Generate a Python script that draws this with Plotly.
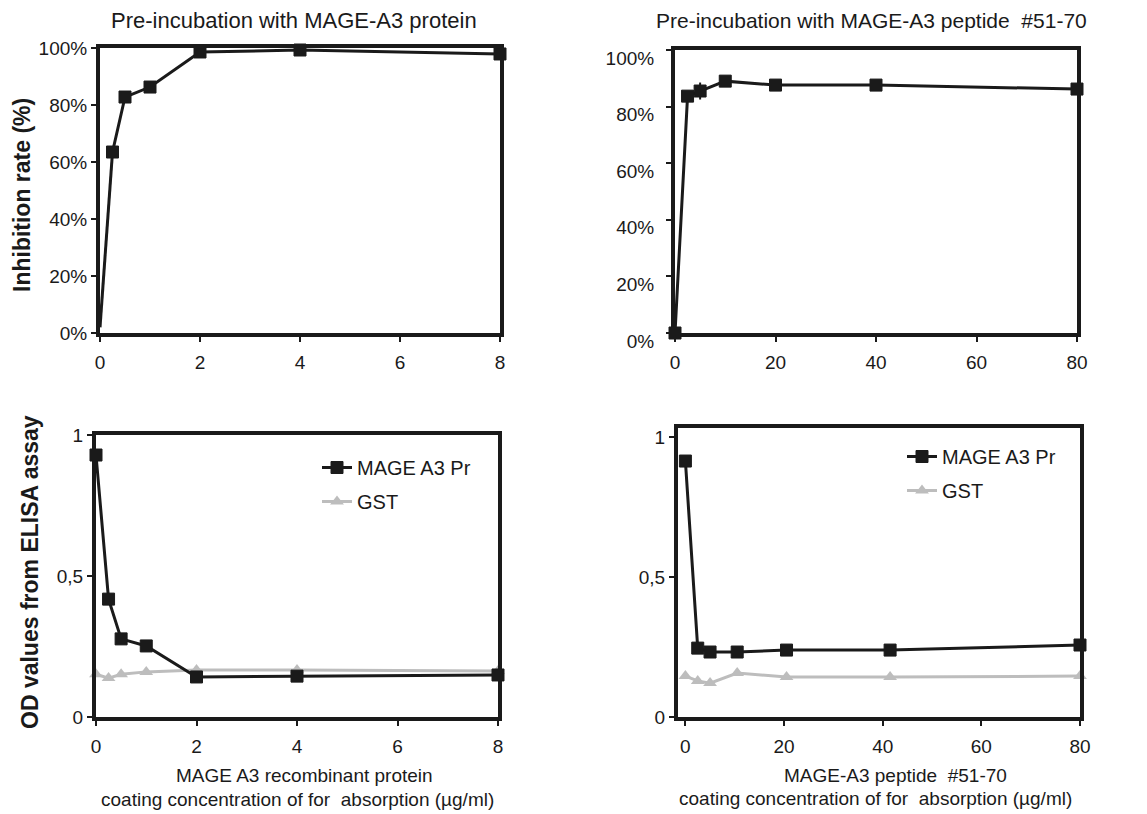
import plotly.graph_objects as go

# ---------------- data ----------------
protein_conc = [0, 0.25, 0.5, 1, 2, 4, 8]
protein_inhibition = [2, 63.5, 82.8, 86.3, 98.6, 99.3, 97.9]

peptide_conc = [0, 2.5, 5, 10, 20, 40, 80]
peptide_inhibition = [0, 83.7, 85.5, 89.0, 87.6, 87.6, 86.2]
peptide_inhibition_err = [0, 0, 3, 0, 0, 0, 0]

od_protein_conc = [0, 0.25, 0.5, 1, 2, 4, 8]
od_protein_mage = [0.929, 0.418, 0.277, 0.252, 0.142, 0.145, 0.149]
od_protein_gst = [0.152, 0.138, 0.152, 0.160, 0.167, 0.167, 0.163]

od_peptide_conc = [0, 2.5, 5, 10.5, 20.5, 41.5, 80]
od_peptide_mage = [0.914, 0.246, 0.232, 0.232, 0.239, 0.239, 0.257]
od_peptide_gst = [0.146, 0.129, 0.121, 0.157, 0.143, 0.143, 0.146]

pct_ticks = [0, 20, 40, 60, 80, 100]
pct_labels = ["0%", "20%", "40%", "60%", "80%", "100%"]
od_ticks = [0, 0.5, 1]
od_labels = ["0", "0,5", "1"]
protein_ticks = [0, 2, 4, 6, 8]
peptide_ticks = [0, 20, 40, 60, 80]

series_names = ["MAGE A3 Pr", "GST"]

# ---------------- styling ----------------
# the page body adds an 8px margin; the figure fills the rest of the window
# and reference pixel positions are shifted by 8px
OFF = 8
W, H = 1147 - OFF, 814 - OFF
INK = "#1a1a1a"
GREY = "#bdbdbd"
FONT = "Liberation Sans, Arial, sans-serif"


def fx(p):
    return (p - OFF) / W


def fy(p):
    return 1 - (p - OFF) / H


def px_x(a, b):
    return [fx(a), fx(b)]


def px_y(top, bottom):
    return [fy(bottom), fy(top)]


fig = go.Figure()

mage_line = dict(color=INK, width=3)
mage_marker = dict(symbol="square", size=12, color=INK, line=dict(color=INK, width=1))
gst_line = dict(color=GREY, width=3)
gst_marker = dict(symbol="triangle-up", size=12, color=GREY, line=dict(color=GREY, width=0))

# first segment of the protein inhibition curve is drawn without a marker at x=0
fig.add_trace(go.Scatter(x=protein_conc[:2], y=protein_inhibition[:2], mode="lines",
                         line=mage_line, cliponaxis=False, showlegend=False,
                         hoverinfo="skip", xaxis="x", yaxis="y"))
fig.add_trace(go.Scatter(x=protein_conc[1:], y=protein_inhibition[1:], mode="lines+markers",
                         line=mage_line, marker=mage_marker, cliponaxis=False,
                         showlegend=False, xaxis="x", yaxis="y"))
fig.add_trace(go.Scatter(x=peptide_conc, y=peptide_inhibition, mode="lines+markers",
                         line=mage_line, marker=mage_marker, cliponaxis=False,
                         error_y=dict(type="data", array=peptide_inhibition_err, visible=True,
                                      color=INK, thickness=2, width=0),
                         showlegend=False, xaxis="x2", yaxis="y2"))

fig.add_trace(go.Scatter(x=od_protein_conc, y=od_protein_gst, mode="lines+markers",
                         name=series_names[1], line=gst_line, marker=gst_marker,
                         cliponaxis=False, legend="legend", legendgroup="b",
                         legendrank=2, xaxis="x3", yaxis="y3"))
fig.add_trace(go.Scatter(x=od_protein_conc, y=od_protein_mage, mode="lines+markers",
                         name=series_names[0], line=mage_line, marker=mage_marker,
                         cliponaxis=False, legend="legend", legendgroup="a",
                         legendrank=1, xaxis="x3", yaxis="y3"))

fig.add_trace(go.Scatter(x=od_peptide_conc, y=od_peptide_gst, mode="lines+markers",
                         name=series_names[1], line=gst_line, marker=gst_marker,
                         cliponaxis=False, legend="legend2", legendgroup="d",
                         legendrank=2, xaxis="x4", yaxis="y4"))
fig.add_trace(go.Scatter(x=od_peptide_conc, y=od_peptide_mage, mode="lines+markers",
                         name=series_names[0], line=mage_line, marker=mage_marker,
                         cliponaxis=False, legend="legend2", legendgroup="c",
                         legendrank=1, xaxis="x4", yaxis="y4"))

tickfont = dict(family=FONT, size=19, color=INK)


def axis(domain, rng, ticks, labels=None, anchor=None, **kw):
    d = dict(domain=domain, range=rng, tickvals=ticks, showgrid=False, zeroline=False,
             showline=True, linewidth=4, linecolor=INK, mirror=True,
             ticks="outside", ticklen=5, tickwidth=2, tickcolor=INK,
             tickfont=tickfont, anchor=anchor, automargin=False)
    if labels is not None:
        d["ticktext"] = labels
    d.update(kw)
    return d


legend_font = dict(family=FONT, size=20, color=INK)
fig.update_layout(
    width=W, height=H,
    margin=dict(l=0, r=0, t=0, b=0, autoexpand=False),
    paper_bgcolor="white", plot_bgcolor="white",
    font=dict(family=FONT, color=INK),
    xaxis=axis(px_x(100, 500), [0, 8], protein_ticks, anchor="y", ticklabelstandoff=4),
    yaxis=axis(px_y(48, 333), [0, 100], pct_ticks, pct_labels, anchor="x"),
    xaxis2=axis(px_x(675, 1077), [0, 80], peptide_ticks, anchor="y2", ticklabelstandoff=4),
    yaxis2=axis(px_y(50, 333), [0, 100], pct_ticks, pct_labels, anchor="x2",
                ticklabelshift=8, ticklabelstandoff=8),
    xaxis3=axis(px_x(96, 498), [0, 8], protein_ticks, anchor="y3", ticklabelstandoff=4),
    yaxis3=axis(px_y(435, 717), [0, 1], od_ticks, od_labels, anchor="x3"),
    xaxis4=axis(px_x(678, 1080), [-1.5, 80], peptide_ticks, anchor="y4", ticklabelstandoff=4),
    yaxis4=axis(px_y(428, 717), [0, 1.032], od_ticks, od_labels, anchor="x4"),
    legend=dict(x=fx(317), y=fy(448), xanchor="left", yanchor="top",
                bgcolor="rgba(0,0,0,0)", font=legend_font,
                tracegroupgap=5, itemwidth=30, traceorder="grouped"),
    legend2=dict(x=fx(902), y=fy(437), xanchor="left", yanchor="top",
                 bgcolor="rgba(0,0,0,0)", font=legend_font,
                 tracegroupgap=5, itemwidth=30, traceorder="grouped"),
)

ann = []
ann.append(dict(text="Pre-incubation with MAGE-A3 protein", x=fx(294), y=fy(20),
                xref="paper", yref="paper", showarrow=False,
                font=dict(family=FONT, size=22, color=INK),
                xanchor="center", yanchor="middle"))
ann.append(dict(text="Pre-incubation with MAGE-A3 peptide  #51-70", x=fx(871), y=fy(20),
                xref="paper", yref="paper", showarrow=False,
                font=dict(family=FONT, size=21, color=INK),
                xanchor="center", yanchor="middle"))
ytitle_font = dict(family=FONT, size=23, color=INK, weight="bold")
ann.append(dict(text="Inhibition rate (%)", x=fx(22), y=fy(195), xref="paper", yref="paper",
                showarrow=False, textangle=-90, font=ytitle_font,
                xanchor="center", yanchor="middle"))
ann.append(dict(text="OD values from ELISA assay", x=fx(30), y=fy(572), xref="paper",
                yref="paper", showarrow=False, textangle=-90, font=ytitle_font,
                xanchor="center", yanchor="middle"))
xt_font = dict(family=FONT, size=19, color=INK)
ann.append(dict(text="MAGE A3 recombinant protein", x=fx(304), y=fy(775), xref="paper",
                yref="paper", showarrow=False, font=xt_font, xanchor="center", yanchor="middle"))
ann.append(dict(text="coating concentration of for  absorption (µg/ml)", x=fx(297), y=fy(799),
                xref="paper", yref="paper", showarrow=False, font=xt_font,
                xanchor="center", yanchor="middle"))
ann.append(dict(text="MAGE-A3 peptide  #51-70", x=fx(895), y=fy(775), xref="paper",
                yref="paper", showarrow=False, font=xt_font, xanchor="center", yanchor="middle"))
ann.append(dict(text="coating concentration of for  absorption (µg/ml)", x=fx(875), y=fy(798),
                xref="paper", yref="paper", showarrow=False, font=xt_font,
                xanchor="center", yanchor="middle"))
fig.update_layout(annotations=ann)

fig.write_html("out.html")
